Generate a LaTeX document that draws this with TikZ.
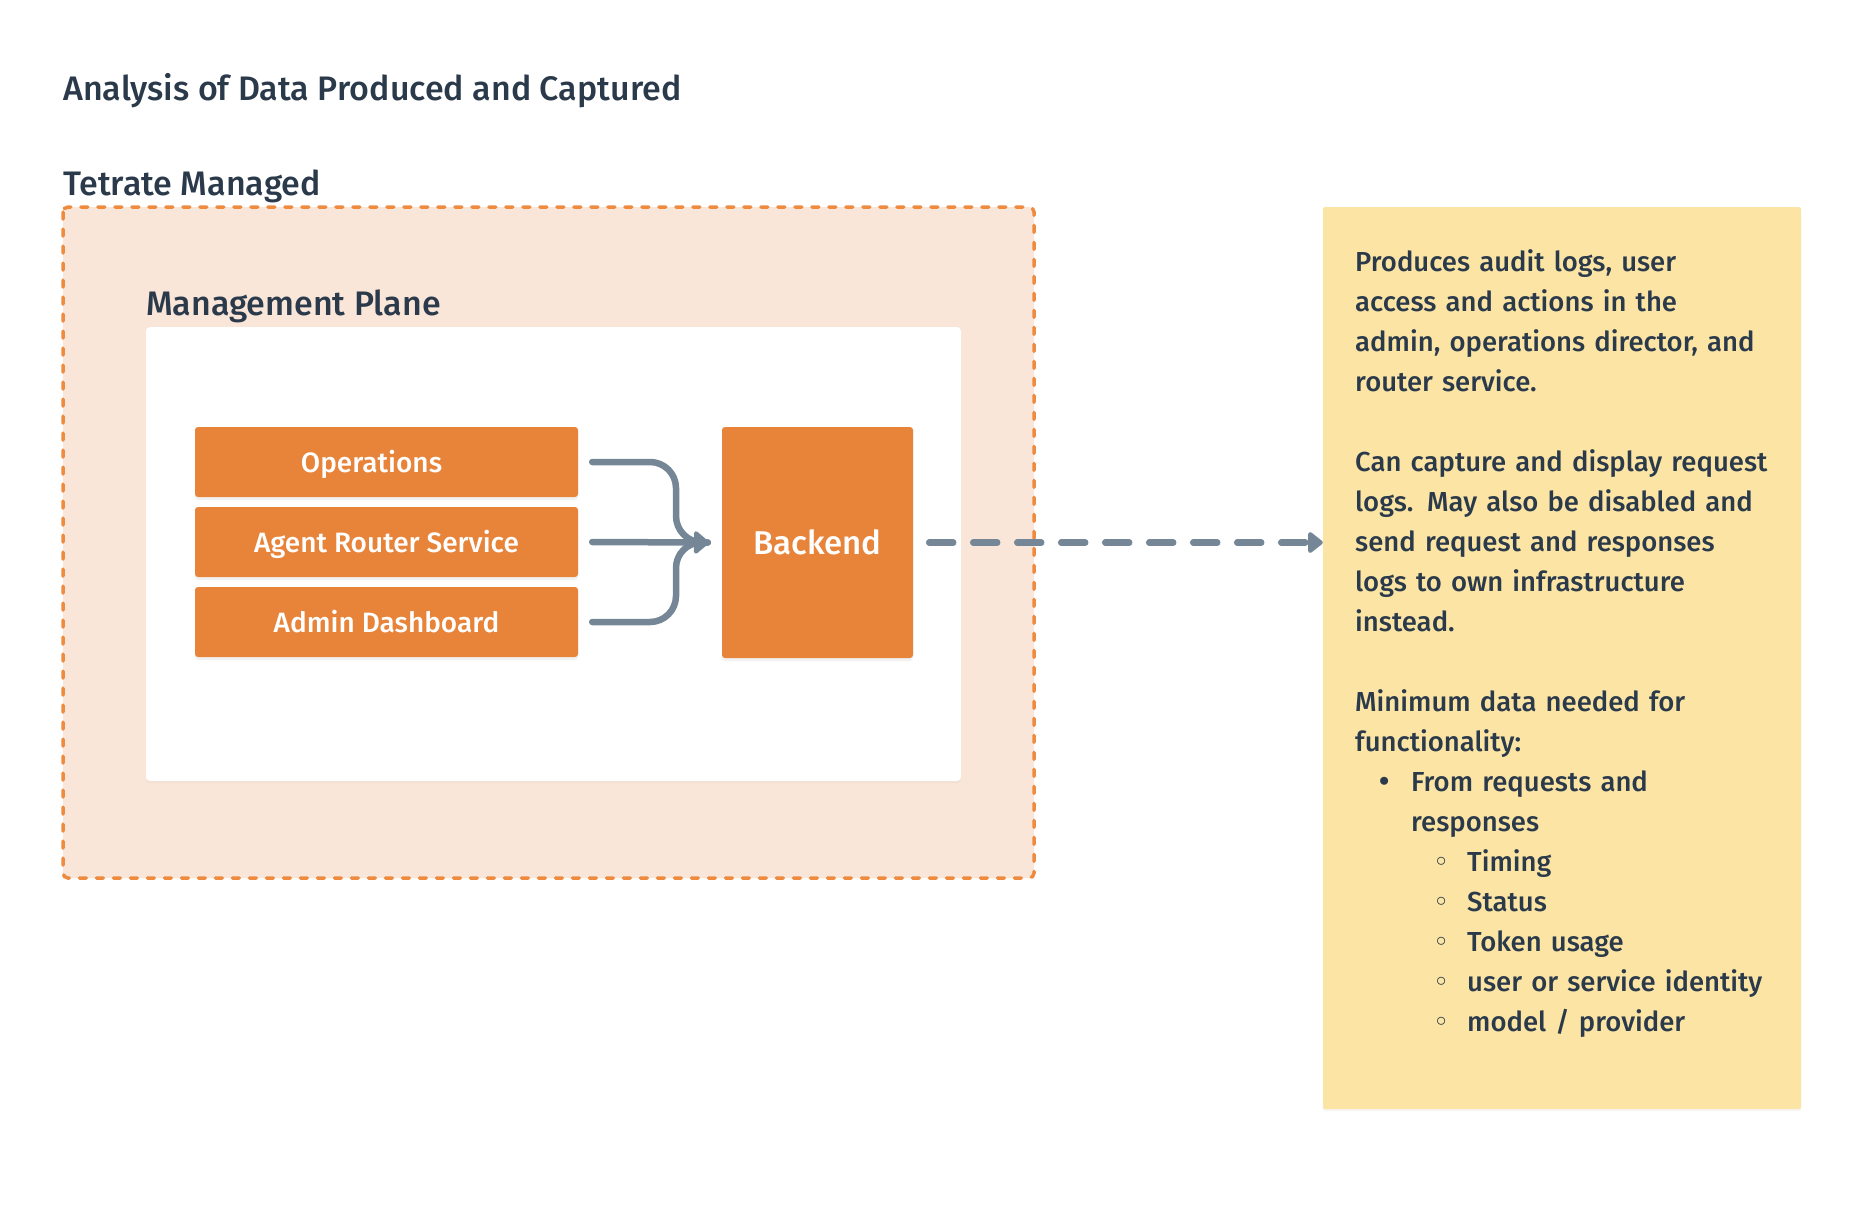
\documentclass[tikz,border=0pt]{standalone}
\usepackage{fontspec}
\setmainfont{Fira Sans}[UprightFont={* Medium}]
\newfontfamily\dejavu{DejaVu Sans}
\usetikzlibrary{arrows.meta,shadows,calc}
\definecolor{txt}{HTML}{2B3A4B}
\definecolor{boxor}{HTML}{E8843A}
\definecolor{outfill}{HTML}{F9E6D9}
\definecolor{outdash}{HTML}{EE8B3F}
\definecolor{notey}{HTML}{FCE5A4}
\definecolor{conn}{HTML}{758696}
\tikzset{
  heading/.style={anchor=base west, inner sep=0pt, text=txt, font=\fontsize{34}{38}\selectfont},
  svcbox/.style={fill=boxor, draw=none, rounded corners=3pt, minimum width=383pt, minimum height=70pt,
     text=white, font=\fontsize{28}{30}\selectfont, inner sep=0pt, text height=24pt, text depth=3pt,
     drop shadow={opacity=0.10, shadow xshift=0pt, shadow yshift=-3pt}},
  bebox/.style={fill=boxor, draw=none, rounded corners=3pt, minimum width=191pt, minimum height=231pt,
     text=white, font=\fontsize{33}{38}\selectfont, inner sep=0pt,
     drop shadow={opacity=0.10, shadow xshift=0pt, shadow yshift=-3pt}},
  flow/.style={draw=conn, line width=6.5pt, rounded corners=26pt},
  flowtip/.style={-{Triangle[length=16pt,width=26pt,round]}},
  notetext/.style={anchor=north west, inner sep=0pt, text=txt, align=left, text width=460pt,
     font=\fontsize{27.5}{40}\selectfont},
}
\begin{document}
\begin{tikzpicture}[x=1pt,y=-1pt]
\useasboundingbox[fill=white] (0,0) rectangle (1865,1205);

% titles
\node[heading] (title) at (63,100) {Analysis of Data Produced and Captured};
\node[heading] (tm) at (63,195) {Tetrate Managed};

% outer managed region
\draw[fill=outfill, draw=outdash, line width=3.5pt, dash pattern=on 7pt off 10pt, line cap=round, rounded corners=5pt]
  (63,207) rectangle (1034,878);
\node[heading] (mp) at (146,315) {Management Plane};

% white plane
\fill[white, rounded corners=4pt, drop shadow={opacity=0.06, shadow xshift=0pt, shadow yshift=-2pt}]
  (146,327) rectangle (961,781);

% services
\node[svcbox] (ops) at (386.5,462) {\hspace*{-30pt}Operations};
\node[svcbox] (ars) at (386.5,542) {Agent Router Service};
\node[svcbox] (adm) at (386.5,622) {Admin Dashboard};
\node[bebox] (be) at (817.5,542.5) {Backend};

% note
\node[fill=notey, draw=none, minimum width=478pt, minimum height=902pt, inner sep=0pt, rounded corners=2pt,
  drop shadow={opacity=0.07, shadow xshift=0pt, shadow yshift=-2pt}] (note) at (1562,658) {};
\node[notetext] (nt) at (1355,249) {Produces audit logs, user\\
access and actions in the\\
admin, operations director, and\\
router service.\\[40pt]
Can capture and display request\\
logs. May also be disabled and\\
send request and responses\\
logs to own infrastructure\\
instead.\\[40pt]
Minimum data needed for\\
functionality:\\
\hspace*{21pt}\makebox[35pt][l]{{\dejavu •}}From requests and\\
\hspace*{56pt}responses\\
\hspace*{78pt}\makebox[34pt][l]{{\dejavu ◦}}Timing\\
\hspace*{78pt}\makebox[34pt][l]{{\dejavu ◦}}Status\\
\hspace*{78pt}\makebox[34pt][l]{{\dejavu ◦}}Token usage\\
\hspace*{78pt}\makebox[34pt][l]{{\dejavu ◦}}user or service identity\\
\hspace*{78pt}\makebox[34pt][l]{{\dejavu ◦}}model / provider};

% connectors
\coordinate (jn) at (676,542);
\draw[flow, line cap=round] ([xshift=14pt]ops.east) -| (jn) -- ([xshift=-14pt]be.west);
\draw[flow, line cap=round] ([xshift=14pt]adm.east) -| (jn) -- ([xshift=-14pt]be.west);
\draw[flow, line cap=round, flowtip] ([xshift=14pt]ars.east) -- ([xshift=-13pt]be.west);
\draw[draw=conn, line width=6.5pt, dash pattern=on 24pt off 20pt, line cap=round,
  -{Triangle[length=16pt,width=24pt,round]}] ([xshift=16pt]be.east) -- (be.east -| note.west);
\end{tikzpicture}
\end{document}
